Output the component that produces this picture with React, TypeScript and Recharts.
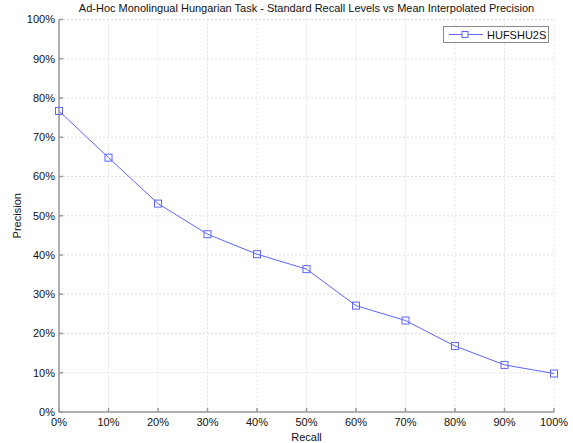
import { LineChart, Line, XAxis, YAxis, CartesianGrid, Legend, Label } from 'recharts'

const recallLevels = [0, 10, 20, 30, 40, 50, 60, 70, 80, 90, 100]
const hufshu2s = [76.7, 64.8, 53.1, 45.3, 40.2, 36.4, 27.1, 23.3, 16.8, 12.0, 9.8]
const axisTicks = [0, 10, 20, 30, 40, 50, 60, 70, 80, 90, 100]

const data = recallLevels.map((r, i) => ({ recall: r, precision: hufshu2s[i] }))

const FONT = '"Liberation Sans", Arial, sans-serif'
const BLUE = '#5c66ff'
const FRAME = '#8a8a8a'
const pct = (v: number) => `${v}%`

function SquareDot(props: any) {
  const { cx, cy } = props
  if (cx == null || cy == null) return null
  return <rect x={cx - 3.5} y={cy - 3.5} width={7} height={7} fill="none" stroke={BLUE} strokeWidth={1} />
}

function LegendBox() {
  return (
    <div
      style={{
        border: `1px solid ${FRAME}`,
        background: '#fff',
        width: 104,
        height: 15,
        display: 'flex',
        alignItems: 'center',
        fontFamily: FONT,
        fontSize: 11,
        color: '#111',
      }}
    >
      <svg width={43} height={15}>
        <line x1={5} y1={7.5} x2={39} y2={7.5} stroke={BLUE} strokeWidth={1} />
        <rect x={18} y={4.5} width={6} height={6} fill="#fff" stroke={BLUE} />
      </svg>
      <span>HUFSHU2S</span>
    </div>
  )
}

function PrecisionLabel(props: any) {
  const { viewBox } = props
  const y = viewBox.y + viewBox.height / 2
  return (
    <text x={17} y={y} transform={`rotate(-90, 17, ${y})`} textAnchor="middle" dominantBaseline="central" fontFamily={FONT} fontSize={11} fill="#111">
      Precision
    </text>
  )
}

export default function App() {
  return (
    <div style={{ position: 'absolute', left: 0, top: 0, width: 573, height: 443, background: '#fff' }}>
      <div
        style={{
          position: 'absolute',
          left: 59,
          width: 495,
          top: 2,
          textAlign: 'center',
          fontFamily: FONT,
          fontSize: 11,
          color: '#111',
          whiteSpace: 'nowrap',
        }}
      >
        Ad-Hoc Monolingual Hungarian Task - Standard Recall Levels vs Mean Interpolated Precision
      </div>
      <LineChart width={573} height={443} data={data} margin={{ top: 19.5, right: 19, left: 0, bottom: 0 }}>
        <CartesianGrid stroke="#e0e0e0" strokeDasharray="2 2" />
        <XAxis
          xAxisId="top"
          orientation="top"
          dataKey="recall"
          type="number"
          domain={[0, 100]}
          ticks={axisTicks}
          height={0}
          tickSize={-4}
          tick={false}
          stroke={FRAME}
          interval={0}
        />
        <YAxis
          yAxisId="right"
          orientation="right"
          type="number"
          domain={[0, 100]}
          ticks={axisTicks}
          width={0}
          tickSize={-4}
          tick={false}
          stroke={FRAME}
          interval={0}
        />
        <XAxis
          dataKey="recall"
          type="number"
          domain={[0, 100]}
          ticks={axisTicks}
          tickFormatter={pct}
          height={31}
          tickSize={-4}
          tickMargin={10}
          stroke="#999"
          strokeWidth={1.5}
          tick={{ fill: '#111', fontSize: 11, fontFamily: FONT }}
          interval={0}
        >
          <Label value="Recall" position="insideBottom" offset={2} style={{ fontFamily: FONT, fontSize: 11, fill: '#111' }} />
        </XAxis>
        <YAxis
          type="number"
          domain={[0, 100]}
          ticks={axisTicks}
          tickFormatter={pct}
          width={59}
          tickSize={-4}
          tickMargin={8}
          stroke="#999"
          strokeWidth={1.5}
          tick={{ fill: '#111', fontSize: 11, fontFamily: FONT }}
          interval={0}
        >
          <Label content={<PrecisionLabel />} />
        </YAxis>
        <Legend
          layout="vertical"
          align="center"
          verticalAlign="middle"
          content={<LegendBox />}
          wrapperStyle={{ top: 26, left: 443, width: 'auto' }}
        />
        <Line
          dataKey="precision"
          name="HUFSHU2S"
          stroke={BLUE}
          strokeWidth={1}
          dot={<SquareDot />}
          activeDot={false}
          isAnimationActive={false}
        />
      </LineChart>
    </div>
  )
}
